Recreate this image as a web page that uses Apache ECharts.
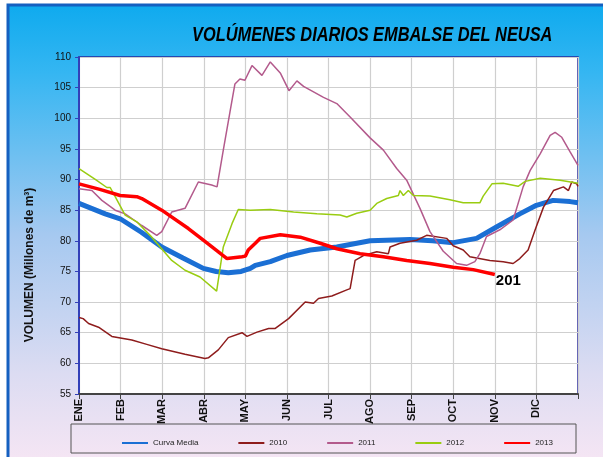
<!DOCTYPE html>
<html>
<head>
<meta charset="utf-8">
<script src="https://cdn.jsdelivr.net/npm/echarts@6/dist/echarts.min.js"></script>
<style>
  body { margin: 0; background: #fff; }
  #chart { width: 603px; height: 457px; }
</style>
</head>
<body>
<div id="chart"></div>
<script>
// meses del eje X (posicion = meses desde ENE)
const months = ['ENE', 'FEB', 'MAR', 'ABR', 'MAY', 'JUN', 'JUL', 'AGO', 'SEP', 'OCT', 'NOV', 'DIC'];

// Curva Media
const xMedia = [0, 0.63, 0.99, 1.5, 1.99, 2.5, 2.99, 3.3, 3.59, 3.9, 4.12, 4.24, 4.6, 5.0, 5.56, 6.2, 7.0, 7.96, 8.5, 9.0, 9.56, 10.05, 10.6, 11.0, 11.4, 11.81, 12];
const yMedia = [86.1, 84.4, 83.6, 81.4, 79.0, 77.2, 75.5, 75.0, 74.8, 75.0, 75.5, 76.0, 76.6, 77.6, 78.5, 79.0, 80.0, 80.2, 80.0, 79.7, 80.4, 82.3, 84.4, 85.8, 86.6, 86.4, 86.2];

// 2010
const x2010 = [0, 0.1, 0.23, 0.47, 0.79, 1.27, 1.63, 1.99, 2.55, 3.03, 3.11, 3.35, 3.59, 3.92, 4.04, 4.28, 4.56, 4.72, 5.04, 5.44, 5.64, 5.76, 6.08, 6.44, 6.52, 6.64, 6.84, 7.16, 7.44, 7.48, 7.72, 8.12, 8.36, 8.84, 9.0, 9.24, 9.4, 9.56, 9.88, 10.2, 10.44, 10.6, 10.8, 10.97, 11.17, 11.41, 11.65, 11.77, 11.85, 11.97, 12];
const y2010 = [67.5, 67.3, 66.5, 65.9, 64.4, 63.8, 63.1, 62.4, 61.5, 60.8, 60.9, 62.2, 64.2, 65.0, 64.4, 65.1, 65.7, 65.7, 67.3, 70.0, 69.8, 70.6, 71.0, 72.0, 72.2, 76.8, 77.6, 78.2, 77.9, 79.0, 79.6, 80.1, 80.9, 80.4, 79.2, 78.5, 77.4, 77.2, 76.8, 76.6, 76.3, 77.1, 78.5, 81.8, 85.5, 88.2, 88.8, 88.2, 89.6, 89.3, 88.9];

// 2011
const x2011 = [0, 0.31, 0.55, 0.87, 1.11, 1.51, 1.87, 1.99, 2.23, 2.55, 2.87, 3.19, 3.32, 3.47, 3.63, 3.75, 3.87, 3.99, 4.16, 4.4, 4.6, 4.84, 5.05, 5.24, 5.4, 5.88, 6.2, 6.52, 7.0, 7.32, 7.64, 7.88, 8.2, 8.44, 8.76, 9.08, 9.32, 9.52, 9.64, 9.8, 10.12, 10.44, 10.68, 10.85, 11.09, 11.33, 11.45, 11.61, 11.81, 12];
const y2011 = [88.5, 88.2, 86.6, 85.0, 84.4, 82.5, 80.9, 81.5, 84.7, 85.3, 89.6, 89.1, 88.8, 94.8, 101.0, 105.6, 106.4, 106.2, 108.6, 107.0, 109.2, 107.4, 104.5, 106.1, 105.2, 103.4, 102.4, 100.2, 96.8, 94.8, 91.8, 89.9, 85.3, 81.5, 78.3, 76.3, 76.0, 76.6, 77.9, 80.7, 81.8, 83.4, 88.8, 91.5, 94.2, 97.2, 97.7, 96.9, 94.5, 92.3];

// 2012
const x2012 = [0, 0.4, 0.67, 0.75, 0.87, 1.11, 1.39, 1.75, 2.23, 2.55, 2.91, 3.31, 3.47, 3.68, 3.83, 4.12, 4.6, 5.16, 5.72, 6.28, 6.44, 6.68, 7.0, 7.16, 7.4, 7.68, 7.72, 7.8, 7.92, 8.04, 8.44, 8.92, 9.24, 9.64, 9.72, 9.93, 10.2, 10.56, 10.73, 11.09, 11.57, 12];
const y2012 = [91.8, 90.0, 88.7, 88.7, 87.2, 84.2, 83.1, 80.6, 76.8, 75.2, 74.1, 71.8, 79.0, 82.8, 85.1, 85.0, 85.1, 84.7, 84.4, 84.2, 83.9, 84.5, 85.0, 86.1, 86.9, 87.4, 88.2, 87.4, 88.2, 87.4, 87.3, 86.7, 86.2, 86.2, 87.3, 89.3, 89.4, 88.9, 89.7, 90.2, 89.9, 89.4];

// 2013
const x2013 = [0, 0.5, 0.99, 1.39, 1.51, 1.99, 2.63, 2.99, 3.56, 3.92, 4.0, 4.07, 4.24, 4.36, 4.84, 5.32, 5.8, 6.2, 6.76, 7.32, 7.88, 8.44, 9.0, 9.48, 10.0];
const y2013 = [89.3, 88.4, 87.4, 87.2, 86.9, 85.0, 82.0, 80.1, 77.1, 77.4, 77.5, 78.5, 79.6, 80.4, 81.0, 80.6, 79.6, 78.7, 77.9, 77.4, 76.8, 76.3, 75.7, 75.3, 74.5];

const pairs = (xs, ys) => xs.map((x, i) => [x, ys[i]]);

const chart = echarts.init(document.getElementById('chart'));

const option = {
  animation: false,
  backgroundColor: '#ffffff',
  graphic: [
    {
      type: 'rect',
      z: -100,
      shape: { x: 8, y: 5, width: 600, height: 460 },
      style: {
        fill: new echarts.graphic.LinearGradient(0, 0, 0, 1, [
          { offset: 0, color: '#0eaaee' },
          { offset: 0.15, color: '#35b6f2' },
          { offset: 0.5, color: '#a6c9f0' },
          { offset: 0.8, color: '#dcdcf2' },
          { offset: 1, color: '#f7e6f4' }
        ]),
        stroke: '#1560c0',
        lineWidth: 3
      }
    },
    {
      // titulo, comprimido a lo ancho como en el original
      type: 'text',
      x: 192,
      y: 36,
      scaleX: 0.84,
      style: {
        text: 'VOLÚMENES DIARIOS EMBALSE DEL NEUSA',
        align: 'left',
        verticalAlign: 'middle',
        font: 'italic bold 19.5px "Liberation Sans", Arial, sans-serif',
        fill: '#000'
      }
    },
    {
      type: 'rect',
      shape: { x: 71, y: 424, width: 505, height: 29 },
      style: { fill: 'transparent', stroke: '#555', lineWidth: 1 }
    },
    {
      type: 'text',
      x: 30,
      y: 265,
      rotation: Math.PI / 2,
      style: {
        text: 'VOLUMEN (Millones de m³)',
        align: 'center',
        verticalAlign: 'middle',
        font: 'bold 12px Arial, "Liberation Sans", sans-serif',
        fill: '#111'
      }
    }
  ],
  legend: {
    left: 117,
    top: 434,
    itemGap: 40,
    itemWidth: 26,
    itemHeight: 2,
    itemTextGap: 3,
    icon: 'rect',
    textStyle: { fontSize: 8, color: '#222', fontFamily: 'Arial, "Liberation Sans", sans-serif' },
    data: ['Curva Media', '2010', '2011', '2012', '2013']
  },
  grid: {
    left: 79,
    right: 25,
    top: 57,
    bottom: 63,
    show: true,
    backgroundColor: '#ffffff',
    borderColor: '#24249c',
    borderWidth: 1.5
  },
  xAxis: {
    type: 'value',
    min: 0,
    max: 12,
    interval: 1,
    axisLine: { show: true, lineStyle: { color: '#444', width: 2 } },
    axisTick: { show: true, length: 5, lineStyle: { color: '#444' } },
    splitLine: { show: true, lineStyle: { color: '#cfcfcf', width: 1.2 } },
    axisLabel: {
      rotate: 90,
      margin: 5,
      fontSize: 11,
      fontWeight: 'bold',
      color: '#111',
      fontFamily: 'Arial, "Liberation Sans", sans-serif',
      formatter: v => months[v] || ''
    }
  },
  yAxis: {
    type: 'value',
    min: 55,
    max: 110,
    interval: 5,
    axisLine: { show: true, lineStyle: { color: '#3340b8', width: 2 } },
    axisTick: { show: true, length: 4, lineStyle: { color: '#3340b8' } },
    splitLine: { show: true, lineStyle: { color: '#cfcfcf', width: 1.2 } },
    axisLabel: {
      margin: 8,
      fontSize: 10,
      color: '#111',
      fontFamily: 'Arial, "Liberation Sans", sans-serif'
    }
  },
  series: [
    {
      name: 'Curva Media', type: 'line', symbol: 'none',
      color: '#1b6fd4', lineStyle: { width: 5 },
      data: pairs(xMedia, yMedia)
    },
    {
      name: '2010', type: 'line', symbol: 'none',
      color: '#8e1c1c', lineStyle: { width: 1.5 },
      data: pairs(x2010, y2010)
    },
    {
      name: '2011', type: 'line', symbol: 'none',
      color: '#b35a8c', lineStyle: { width: 1.5 },
      data: pairs(x2011, y2011)
    },
    {
      name: '2012', type: 'line', symbol: 'none',
      color: '#99cc11', lineStyle: { width: 1.5 },
      data: pairs(x2012, y2012)
    },
    {
      name: '2013', type: 'line', symbol: 'none',
      color: '#ff0000', lineStyle: { width: 3.5 },
      endLabel: {
        show: true,
        formatter: '201',
        distance: 1,
        offset: [0, 6],
        fontSize: 15,
        fontWeight: 'bold',
        color: '#000',
        fontFamily: 'Arial, "Liberation Sans", sans-serif'
      },
      data: pairs(x2013, y2013)
    }
  ]
};

chart.setOption(option);
</script>
</body>
</html>
